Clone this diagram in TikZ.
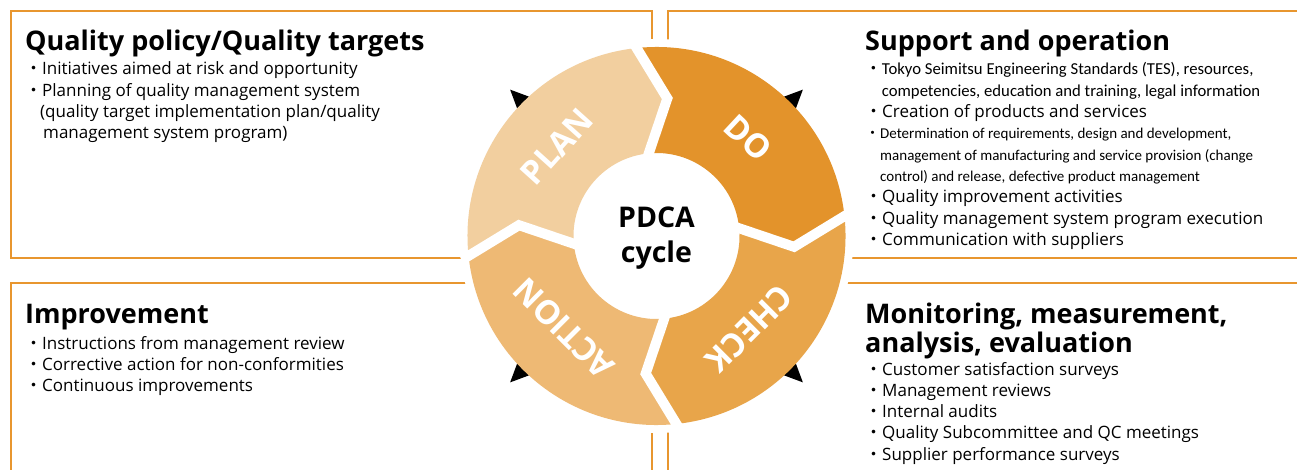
\documentclass[tikz,border=0pt]{standalone}
\usepackage{fontspec}
\setmainfont{Open Sans}
\newfontfamily\carl{Carlito}
\newfontfamily\jpf{Noto Sans CJK JP}
\usepackage{tikz}
\usetikzlibrary{calc}

\definecolor{frame}{HTML}{E8962F}
\definecolor{plancol}{HTML}{F2CF9F}
\definecolor{docol}{HTML}{E3932B}
\definecolor{checkcol}{HTML}{E8A54A}
\definecolor{actcol}{HTML}{EEB974}

\newcommand{\bul}{{\jpf ・}}
\newcommand{\sm}{\carl\fontsize{16.7}{21}\selectfont}
\newcommand{\smc}{\carl\fontsize{15}{21}\selectfont}

\begin{document}
\begin{tikzpicture}[x=1pt, y=1pt,
  frameline/.style={draw=frame, line width=2.6pt},
  title/.style={anchor=base west, inner sep=0, font=\fontsize{27}{30}\selectfont\bfseries},
  item/.style={anchor=base west, inner sep=0, font=\fontsize{17}{21}\selectfont},
  ring/.style={text=white, inner sep=0, font=\fontsize{33}{36}\selectfont\bfseries}]
\useasboundingbox (0,0) rectangle (1297,469);
\clip (0,0) rectangle (1297,469);
\coordinate (C) at (656.5,233);

% frames, cut out round the cycle
\draw[frameline] (11,458) rectangle (652,211);
\draw[frameline] (668,458) rectangle (1310,211);
\draw[frameline] (11,186) rectangle (652,-10);
\draw[frameline] (668,186) rectangle (1310,-10);
\fill[white] (C) circle (197);

\foreach \a in {45,135,225,315} \fill[black] ($(C)+(\a:207)$) -- ($(C)+(\a-4:180)$) -- ($(C)+(\a+4:180)$) -- cycle;

% the four arrows of the ring
\foreach \b/\col in {187/plancol, 97/docol, 7/checkcol, -83/actcol} \fill[\col] ($(C)+(\b:189)$) arc[start angle=\b, end angle=\b-90, radius=189] -- ($(C)+(\b-101.5:138)$) -- ($(C)+(\b-90:83)$) arc[start angle=\b-90, end angle=\b, radius=83] -- ($(C)+(\b-11.5:138)$) -- cycle;

\foreach \b in {187,97,7,-83} \draw[white, line width=10pt] ($(C)+(\b:196)$) -- ($(C)+(\b-11.5:138)$) -- ($(C)+(\b:78)$);

\node[ring, rotate=48] (plan) at ($(C)+(138:134)$) {PLAN};
\node[ring, rotate=-43] (do) at ($(C)+(47:134)$) {DO};
\node[ring, rotate=-135] (check) at ($(C)+(-45:131)$) {CHECK};
\node[ring, rotate=135] (action) at ($(C)+(-135:131)$) {ACTION};

\node[align=center, font=\fontsize{28.5}{35}\selectfont\bfseries] (pdca) at ($(C)+(0,-2)$) {PDCA\\cycle};

% top left
\node[title] (plantitle) at (25,418) {Quality policy/Quality targets};
\foreach \t [count=\i] in {\bul Initiatives aimed at risk and opportunity, \bul Planning of quality management system, \hspace{15pt}(quality target implementation plan/quality, \hspace{18pt}management system program)} \node[item] (plan\i) at (25,415.3-21.3*\i) {\t};

% top right
\node[title] (dotitle) at (865,418) {Support and operation};
\foreach \t [count=\i] in {{\sm\bul Tokyo Seimitsu Engineering Standards (TES), resources,}, {\sm\hspace{16.7pt}competencies, education and training, legal information}, \bul Creation of products and services, {\smc\bul Determination of requirements, design and development,}, {\smc\hspace{15pt}management of manufacturing and service provision (change}, {\smc\hspace{15pt}control) and release, defective product management}, \bul Quality improvement activities, \bul Quality management system program execution, \bul Communication with suppliers} \node[item] (do\i) at (865,415.3-21.3*\i) {\t};

% bottom left
\node[title] (acttitle) at (25,146) {Improvement};
\foreach \t [count=\i] in {\bul Instructions from management review, \bul Corrective action for non-conformities, \bul Continuous improvements} \node[item] (act\i) at (25,141.3-21.3*\i) {\t};

% bottom right
\node[title] (checktitle) at (865,146) {Monitoring, measurement,};
\node[title] (checktitleb) at (865,117) {analysis, evaluation};
\foreach \t [count=\i] in {\bul Customer satisfaction surveys, \bul Management reviews, \bul Internal audits, \bul Quality Subcommittee and QC meetings, \bul Supplier performance surveys} \node[item] (check\i) at (865,115.3-21.3*\i) {\t};

\end{tikzpicture}
\end{document}
